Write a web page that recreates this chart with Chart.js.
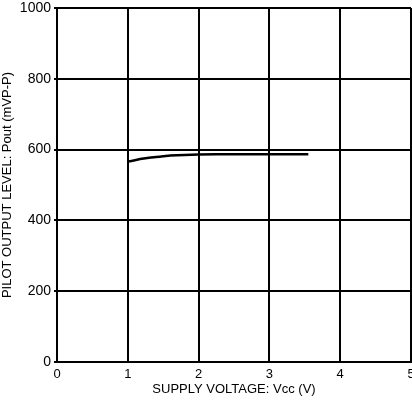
<!DOCTYPE html>
<html><head><meta charset="utf-8">
<script src="https://cdn.jsdelivr.net/npm/chart.js@4"></script>
<style>html,body{margin:0;padding:0;background:#fff}#w{width:412px;height:401px}</style>
</head><body><div id="w"><canvas id="c"></canvas></div>
<script>
const supplyVoltage = [1.0, 1.1, 1.2, 1.3, 1.4, 1.5, 1.6, 1.8, 2.0, 2.5, 3.0, 3.55];
const pilotOutput  = [566, 570, 574, 577, 579, 581, 583, 585, 586, 587, 587, 587];
const xTickValues = [0, 1, 2, 3, 4, 5];
const yTickValues = [0, 200, 400, 600, 800, 1000];
const xTitle = 'SUPPLY VOLTAGE: Vcc (V)';
const yTitle = 'PILOT OUTPUT LEVEL: Pout (mVP-P)';

const font = {family: "'Liberation Sans', Arial, sans-serif", size: 13};
new Chart(document.getElementById('c'), {
  type: 'line',
  data: {datasets: [{
    data: supplyVoltage.map((v, i) => ({x: v, y: pilotOutput[i]})),
    borderColor: '#000', borderWidth: 2.5, pointRadius: 0, tension: 0.3, fill: false
  }]},
  options: {
    responsive: true, maintainAspectRatio: false, animation: false,
    layout: {padding: {top: 8, right: 1, left: 0, bottom: 0}},
    plugins: {legend: {display: false}, tooltip: {enabled: false}},
    scales: {
      x: {
        type: 'linear', min: 0, max: 5,
        afterBuildTicks: s => { s.ticks = xTickValues.map(v => ({value: v})); },
        afterFit: s => { s.height = 39; s.paddingRight = 0; s.paddingLeft = 0; },
        ticks: {color: '#000', font: font, padding: 5, maxRotation: 0, callback: v => String(v)},
        grid: {color: '#000', lineWidth: 2, tickLength: 0},
        border: {color: '#000', width: 2},
        title: {display: true, text: xTitle, color: '#000', font: font, padding: {top: 0, bottom: 4}}
      },
      y: {
        min: 0, max: 1000,
        afterBuildTicks: s => { s.ticks = yTickValues.map(v => ({value: v})); },
        afterFit: s => { s.width = 57; s.paddingTop = 0; s.paddingBottom = 0; },
        ticks: {color: '#000', font: {family: font.family, size: 14}, padding: 3, callback: v => String(v)},
        grid: {color: '#000', lineWidth: 2, tickLength: 3},
        border: {color: '#000', width: 2},
        title: {display: true, text: yTitle, color: '#000', font: font, padding: {top: 0, bottom: 2}}
      }
    }
  }
});
</script></body></html>
